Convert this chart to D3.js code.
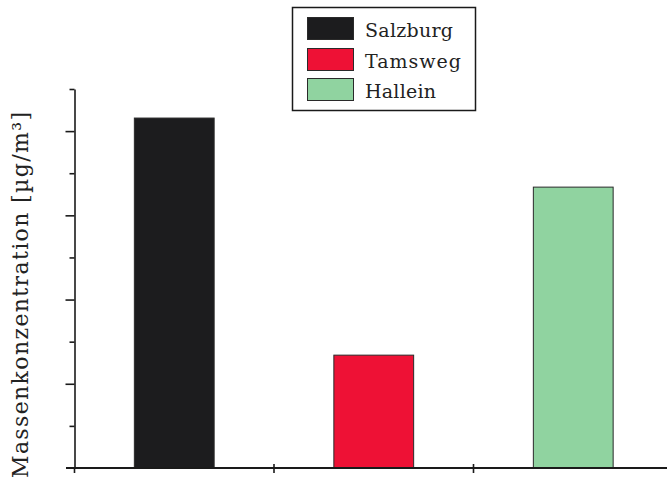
<!DOCTYPE html>
<html><head><meta charset="utf-8">
<script src="https://cdn.jsdelivr.net/npm/d3@7"></script>
<style>body{margin:0;background:#fff}svg{display:block}</style>
</head><body>
<svg id="c" width="667" height="479"></svg>
<script>
const categories = ["Salzburg", "Tamsweg", "Hallein"];
const values = [8.31, 2.68, 6.67];
const colors = ["#1c1c1e", "#ee1135", "#90d3a0"];
const yTicksMajor = [2, 4, 6, 8];
const yTicksMinor = [1, 3, 5, 7, 9];
const yLabel = "Massenkonzentration [µg/m³]";

const svg = d3.select("#c");
const ink = "#1a1a1a";
const x = d3.scaleBand().domain(categories).range([74.5, 673]).padding(0);
const y = d3.scaleLinear().domain([0, 9]).range([468, 89]);

// bars
const bw = x.bandwidth() * 0.4;
svg.selectAll("rect.bar").data(categories).join("rect")
  .attr("class", "bar")
  .attr("x", c => x(c) + (x.bandwidth() - bw) / 2)
  .attr("width", bw)
  .attr("y", (c, i) => y(values[i]))
  .attr("height", (c, i) => y(0) - y(values[i]))
  .attr("fill", (c, i) => colors[i])
  .attr("stroke", "#2a2a2a").attr("stroke-width", 1);

// y axis: major + minor ticks
const gy = svg.append("g").attr("transform", `translate(${x.range()[0]},0)`);
gy.call(d3.axisLeft(y).tickValues(yTicksMajor).tickSize(9).tickSizeOuter(0).tickFormat(""));
const gy2 = svg.append("g").attr("transform", `translate(${x.range()[0]},0)`);
gy2.call(d3.axisLeft(y).tickValues(yTicksMinor).tickSize(5).tickSizeOuter(0).tickFormat(""));
gy2.select(".domain").remove();
svg.selectAll("g .domain, g .tick line").attr("stroke", ink).attr("stroke-width", 1.6);

// x axis
svg.append("line").attr("x1", 66).attr("x2", 667).attr("y1", y(0)).attr("y2", y(0))
  .attr("stroke", ink).attr("stroke-width", 1.8);
svg.selectAll("line.xt").data(categories).join("line").attr("class", "xt")
  .attr("x1", c => x(c)).attr("x2", c => x(c))
  .attr("y1", (c, i) => i === 0 ? y(0) : y(0) - 4).attr("y2", y(0) + 5)
  .attr("stroke", ink).attr("stroke-width", 1.6);

// y label
svg.append("text")
  .attr("transform", "translate(27.5,478) rotate(-90)")
  .attr("font-family", "DejaVu Serif, serif").attr("font-size", 22)
  .attr("fill", "#222")
  .attr("textLength", 366).attr("lengthAdjust", "spacing")
  .text(yLabel);

// legend
const lg = svg.append("g");
lg.append("rect").attr("x", 292.5).attr("y", 7.5).attr("width", 183).attr("height", 103)
  .attr("fill", "#fff").attr("stroke", ink).attr("stroke-width", 1.5);
const rowY = [17, 48, 78];
const labW = [88, 96, 71];
categories.forEach((c, i) => {
  lg.append("rect").attr("x", 307.5).attr("y", rowY[i] + 0.5).attr("width", 46).attr("height", 22)
    .attr("fill", colors[i]).attr("stroke", "#2a2a2a").attr("stroke-width", 1);
  lg.append("text").attr("transform", `translate(365,${rowY[i] + 20})`)
    .attr("font-family", "DejaVu Serif, serif").attr("font-size", 19)
    .attr("fill", "#222")
    .attr("textLength", labW[i]).attr("lengthAdjust", "spacing")
    .text(c);
});
</script>
</body></html>
